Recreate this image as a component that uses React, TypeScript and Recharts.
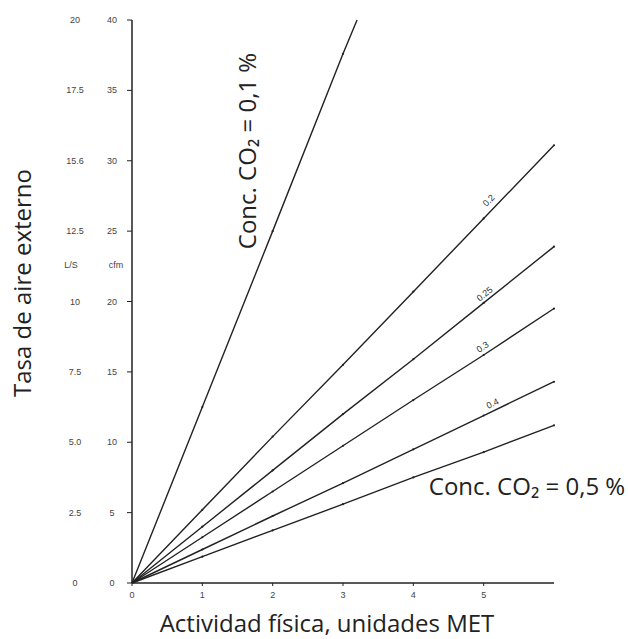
import { LineChart, Line, XAxis, YAxis, LabelList } from 'recharts'

// actividad física (MET) y caudal de aire externo (cfm) para cada concentración de CO2
const metLong = [0, 1, 2, 3, 4, 5, 6]
const metShort = [0, 1, 2, 3, 3.2]
const co2_01 = [0, 12.5, 25, 37.6, 40]
const co2_02 = [0, 5.2, 10.4, 15.5, 20.7, 25.9, 31.1]
const co2_025 = [0, 4.0, 8.0, 12.0, 15.9, 19.9, 23.9]
const co2_03 = [0, 3.25, 6.5, 9.75, 13.0, 16.2, 19.5]
const co2_04 = [0, 2.38, 4.76, 7.1, 9.5, 11.9, 14.3]
const co2_05 = [0, 1.87, 3.74, 5.6, 7.5, 9.3, 11.2]

const xTicks = [0, 1, 2, 3, 4, 5]
const cfmTicks = [0, 5, 10, 15, 20, 25, 30, 35, 40]
const lsLabels = ['0', '2.5', '5.0', '7.5', '10', '12.5', '15.6', '17.5', '20']

const toRows = (xs: number[], ys: number[]) => xs.map((x, i) => ({ met: x, cfm: ys[i] }))

const series = [
  { name: '0.1', data: toRows(metShort, co2_01) },
  { name: '0.2', data: toRows(metLong, co2_02), angle: -46, dx: 5, dy: -18 },
  { name: '0.25', data: toRows(metLong, co2_025), angle: -39, dx: 1, dy: -9 },
  { name: '0.3', data: toRows(metLong, co2_03), angle: -33, dx: -1, dy: -8 },
  { name: '0.4', data: toRows(metLong, co2_04), angle: -26, dx: 9, dy: -12 },
  { name: '0.5', data: toRows(metLong, co2_05) },
]

const INK = '#222'
const TICK_FONT = '"Liberation Sans", Arial, sans-serif'
const TITLE_FONT = '"Open Sans", "Noto Sans", sans-serif'

function SmallDot(props: any) {
  const { cx, cy, payload } = props
  if (!payload || payload.met === 0 || !Number.isInteger(payload.met)) return null
  return <circle cx={cx} cy={cy} r={1.1} fill={INK} />
}

function YTick(props: any) {
  const { x, y, payload, index } = props
  return (
    <g fontFamily={TICK_FONT} fontSize={9} fill="#444">
      <text x={x - 15} y={y} dy={3} textAnchor="middle">{payload.value}</text>
      <text x={x - 52} y={y} dy={3} textAnchor="middle">{lsLabels[index]}</text>
    </g>
  )
}

function lineLabel(s: any) {
  return (props: any) => {
    const { x, y, index } = props
    if (index !== 5) return null
    const px = x + s.dx
    const py = y + s.dy
    return (
      <text x={px} y={py} dy={3} textAnchor="middle" fontFamily={TICK_FONT} fontSize={9}
        fill="#333" transform={`rotate(${s.angle} ${px} ${py})`}>
        {s.name}
      </text>
    )
  }
}

export default function App() {
  return (
    <>
      <style>{'body { margin: 0; overflow: hidden; }'}</style>
      <div style={{ width: 628, height: 639, position: 'relative', background: '#fff' }}>
        <LineChart width={628} height={639} margin={{ top: 20, right: 74, bottom: 0, left: 0 }}>
          <XAxis dataKey="met" type="number" domain={[0, 6]} ticks={xTicks} height={56}
            allowDuplicatedCategory={false} tickSize={3} tickMargin={6}
            axisLine={{ stroke: INK, strokeWidth: 1.5 }} tickLine={{ stroke: INK }}
            tick={{ fontSize: 9, fill: '#444', fontFamily: TICK_FONT }} />
          <YAxis type="number" domain={[0, 40]} ticks={cfmTicks} width={132} tickSize={5}
            tickMargin={0} axisLine={{ stroke: INK, strokeWidth: 1.5 }} tickLine={{ stroke: INK }}
            tick={<YTick />} />
          {series.map((s) => (
            <Line key={s.name} data={s.data} dataKey="cfm" type="linear" stroke={INK}
              strokeWidth={1.4} dot={<SmallDot />} activeDot={false} isAnimationActive={false}>
              {s.angle !== undefined && <LabelList dataKey="cfm" content={lineLabel(s)} />}
            </Line>
          ))}
        </LineChart>
        <svg width={628} height={639} style={{ position: 'absolute', left: 0, top: 0, pointerEvents: 'none' }}>
          <g fontFamily={TICK_FONT} fontSize={9} fill="#444" textAnchor="middle">
            <text x={71} y={268}>L/S</text>
            <text x={116} y={268}>cfm</text>
          </g>
          <g fontFamily={TITLE_FONT} fontSize={24} fill="#222" textAnchor="middle">
            <text x={22} y={283} dy={9} transform="rotate(-90 22 283)">Tasa de aire externo</text>
            <text x={327} y={632}>Actividad física, unidades MET</text>
            <text x={248} y={151} dy={8} transform="rotate(-90 248 151)">Conc. CO₂ = 0,1 %</text>
            <text x={527} y={495}>Conc. CO₂ = 0,5 %</text>
          </g>
        </svg>
      </div>
    </>
  )
}
